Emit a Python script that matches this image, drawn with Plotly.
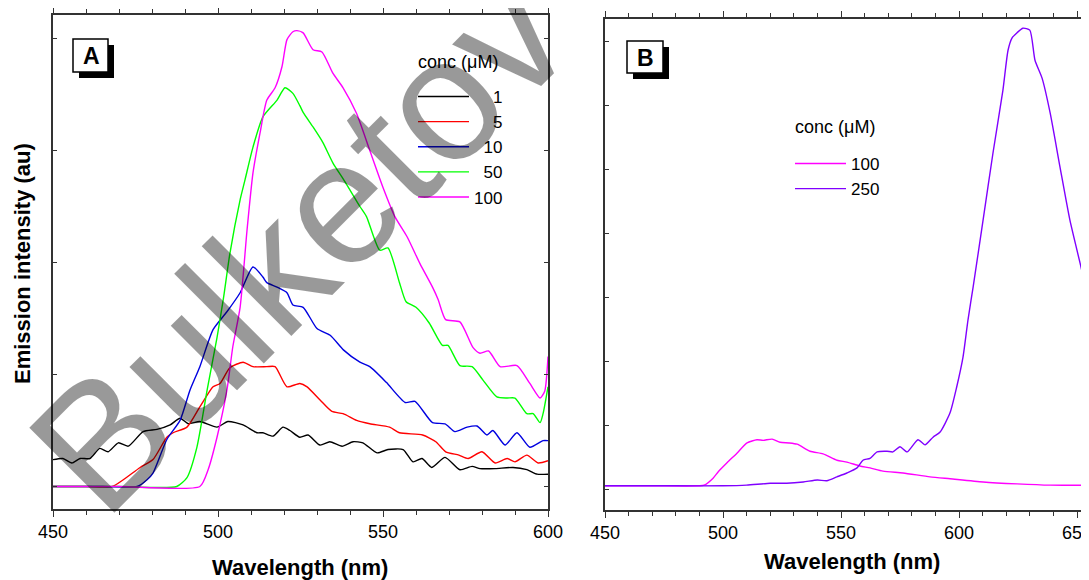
import plotly.graph_objects as go

# ---------------- Panel A data (wavelength nm, emission au) ----------------
wl_a_1 = [450, 453, 455.7, 458.2, 461.2, 464.2, 466.7, 469.8, 472.8, 477.3, 481.5, 485.5, 488.5, 491, 494.5,
          499.7, 503, 507.6, 511.8, 513.6, 516.7, 519.7, 521.8, 524.8, 527.3, 530.9, 533.9, 537.6, 540.9, 543.9,
          548.2, 551.5, 556.1, 559.1, 561.8, 564.8, 568.8, 573.3, 577, 579.4, 584, 589.4, 593.6, 596.7, 600]
int_a_1 = [0.24, 0.25, 0.21, 0.25, 0.25, 0.34, 0.31, 0.39, 0.36, 0.49, 0.51, 0.55, 0.61, 0.56, 0.58,
           0.53, 0.58, 0.55, 0.48, 0.48, 0.45, 0.53, 0.50, 0.44, 0.46, 0.37, 0.40, 0.36, 0.40, 0.39,
           0.30, 0.33, 0.33, 0.22, 0.25, 0.17, 0.26, 0.15, 0.18, 0.16, 0.16, 0.17, 0.15, 0.11, 0.11]

wl_a_5 = [450, 460, 468, 471.3, 476.4, 480.3, 484.5, 486.4, 490.6, 494.5, 498.5, 500.6, 503.6, 507.6, 510.6,
          514.8, 517.3, 520.9, 524.8, 527, 531, 534.5, 537.9, 542, 546, 552, 555, 562, 566, 569, 573, 575.8,
          580, 584, 587.6, 590, 593.6, 597, 600]
int_a_5 = [0, 0, 0, 0.06, 0.17, 0.24, 0.44, 0.48, 0.53, 0.71, 0.89, 0.92, 1.06, 1.11, 1.07,
           1.07, 1.07, 0.89, 0.92, 0.89, 0.77, 0.67, 0.65, 0.59, 0.56, 0.53, 0.48, 0.46, 0.40, 0.31, 0.28, 0.25,
           0.31, 0.21, 0.25, 0.22, 0.28, 0.21, 0.23]

wl_a_10 = [450, 465, 475.5, 478.5, 480.3, 484.5, 488.5, 491.5, 494.5, 498.5, 502.7, 506.7, 510.6, 513.6, 514.8,
           517.9, 520.9, 522.7, 525.8, 530, 534, 538, 543, 546, 551, 556.7, 559.7, 565, 568.8, 571.8, 575.5,
           578.5, 581.5, 583.3, 587, 590.6, 594.5, 598.5, 600]
int_a_10 = [0, 0, 0, 0.06, 0.12, 0.42, 0.59, 0.86, 1.07, 1.40, 1.56, 1.73, 1.96, 1.87, 1.82,
            1.78, 1.73, 1.62, 1.60, 1.41, 1.35, 1.22, 1.11, 1.07, 0.93, 0.75, 0.76, 0.57, 0.56, 0.49, 0.53,
            0.54, 0.46, 0.50, 0.37, 0.48, 0.35, 0.41, 0.41]

wl_a_50 = [450, 470, 487.5, 490.6, 493.6, 496.7, 499.7, 501.7, 503.6, 506.7, 508.2, 510.6, 513.6, 517.9, 520.3,
           522.7, 524.8, 525.8, 528.8, 531.8, 534.8, 538.5, 543, 545, 549, 551.5, 555, 557, 560, 564, 568,
           569.7, 573.3, 577, 580.3, 584.5, 587.6, 590, 593.6, 595.5, 597.6, 598.5, 600]
int_a_50 = [0, 0, 0, 0.08, 0.35, 0.86, 1.33, 1.69, 2.08, 2.56, 2.74, 3.03, 3.30, 3.45, 3.56,
            3.51, 3.40, 3.34, 3.21, 3.07, 2.89, 2.72, 2.50, 2.41, 2.11, 2.13, 1.82, 1.65, 1.60, 1.46, 1.26,
            1.26, 1.08, 1.07, 0.95, 0.80, 0.79, 0.79, 0.65, 0.65, 0.57, 0.65, 0.89]

wl_a_100 = [450, 470, 494.5, 497, 499.7, 502.7, 504.5, 506.7, 508.8, 510.6, 512.7, 514.8, 517.3, 519.4, 520.9,
            522.7, 523.9, 525.8, 528.8, 531.5, 534.8, 537.9, 542, 546, 550, 553.6, 557.3, 561.2, 565, 566.7,
            569, 573.3, 577.3, 579.4, 582, 585.5, 590.6, 594.5, 597.6, 599, 600]
int_a_100 = [0, 0, 0, 0.15, 0.44, 0.86, 1.25, 1.60, 2.29, 2.80, 3.15, 3.45, 3.56, 3.75, 3.99,
             4.06, 4.07, 4.05, 3.90, 3.88, 3.69, 3.56, 3.33, 3.00, 2.67, 2.41, 2.23, 1.99, 1.78, 1.67,
             1.49, 1.47, 1.24, 1.19, 1.21, 1.07, 1.08, 0.92, 0.79, 0.85, 1.16]

names_a = ["1", "5", "10", "50", "100"]
colors_a = ["#000000", "#FF0000", "#0000E0", "#00FF00", "#FF00FF"]

# ---------------- Panel B data ----------------
wl_b_100 = [450, 470, 490, 492, 495.8, 498, 501.7, 505.9, 510.2, 514.4, 517, 520.8, 524.2, 528, 531.4, 536.9,
            542.4, 548.3, 552.5, 558, 562.3, 567.8, 576.3, 587.7, 596.2, 610.2, 624.6, 638.6, 655, 660]
int_b_100 = [0.05, 0.05, 0.05, 0.06, 0.17, 0.27, 0.41, 0.56, 0.72, 0.77, 0.76, 0.78, 0.73, 0.72, 0.70, 0.59,
             0.55, 0.45, 0.42, 0.36, 0.33, 0.28, 0.25, 0.19, 0.16, 0.11, 0.08, 0.06, 0.06, 0.06]

wl_b_250 = [450, 480, 500, 510, 520, 527, 534, 540, 544, 548.3, 552.5, 556.8, 559.3, 562.3, 565.3, 569.5,
            572, 575, 578, 582.6, 585.6, 589, 592, 596.2, 599, 601.7, 603.8, 606, 610.2, 614.4, 618.6, 620.8,
            622.5, 624.6, 627.1, 630, 632.2, 635.2, 638.6, 642.8, 647, 651.3, 655, 660]
int_b_250 = [0.05, 0.05, 0.05, 0.06, 0.09, 0.09, 0.11, 0.14, 0.13, 0.19, 0.25, 0.33, 0.45, 0.48, 0.58, 0.59,
             0.58, 0.66, 0.58, 0.77, 0.69, 0.81, 0.89, 1.19, 1.59, 2.06, 2.64, 3.16, 4.20, 5.25, 6.23, 6.86,
             7.05, 7.13, 7.20, 7.17, 6.70, 6.42, 5.88, 5.03, 4.20, 3.53, 2.95, 2.20]

names_b = ["100", "250"]
colors_b = ["#FF00FF", "#8000FF"]

W, H = 1089, 580
OFF = 8  # page body margin offset of the written HTML
FONT = "Liberation Sans, Arial, sans-serif"
AXC = "#333333"


def px(x):
    return (x - OFF) / W


def py(y):
    return 1 - (y - OFF) / H


fig = go.Figure()

pad = "\u2007"
series_a = [(wl_a_1, int_a_1), (wl_a_5, int_a_5), (wl_a_10, int_a_10), (wl_a_50, int_a_50), (wl_a_100, int_a_100)]
for (xs, ys), nm, c in zip(series_a, names_a, colors_a):
    fig.add_trace(go.Scatter(x=xs, y=ys, mode="lines", name=pad * (3 - len(nm)) + nm,
                             line=dict(color=c, width=1.4, shape="spline", smoothing=0.6),
                             xaxis="x", yaxis="y", legend="legend"))

series_b = [(wl_b_100, int_b_100), (wl_b_250, int_b_250)]
for (xs, ys), nm, c in zip(series_b, names_b, colors_b):
    fig.add_trace(go.Scatter(x=xs, y=ys, mode="lines", name=nm,
                             line=dict(color=c, width=1.4, shape="spline", smoothing=0.6),
                             xaxis="x2", yaxis="y2", legend="legend2"))

xcommon = dict(showgrid=False, zeroline=False, showline=True, linecolor=AXC, linewidth=1.5,
               ticks="outside", ticklen=6, tickwidth=1.3, tickcolor=AXC, dtick=50, tick0=450,
               minor=dict(dtick=10, ticks="outside", ticklen=4, tickwidth=1.2, tickcolor=AXC),
               tickfont=dict(family=FONT, size=18, color="black"), ticklabelstandoff=0,
               automargin=False)
ycommon = dict(showgrid=False, zeroline=False, showline=True, linecolor=AXC, linewidth=1.5,
               ticks="inside", ticklen=4, tickwidth=1.2, tickcolor=AXC, dtick=1, tick0=0,
               showticklabels=False, automargin=False)

# panel B x-range reaches the (cropped) right edge of the figure
b_right_px = W + OFF
b_xmax = 450 + (b_right_px - 605) / 2.36

fig.update_layout(
    width=W, height=H,
    margin=dict(l=0, r=0, t=0, b=0, autoexpand=False),
    paper_bgcolor="white", plot_bgcolor="white",
    font=dict(family=FONT, color="black"),
    xaxis=dict(domain=[px(53), px(548)], range=[450, 600], anchor="y", mirror="ticks", **xcommon),
    yaxis=dict(domain=[py(509), py(15)], range=[-0.2009, 4.2098], anchor="x", mirror="ticks", **ycommon),
    xaxis2=dict(domain=[px(605), 1.0], range=[450, b_xmax], anchor="y2", mirror="ticks", **xcommon),
    yaxis2=dict(domain=[py(510), py(19)], range=[-0.328, 7.344], anchor="x2", mirror=False, **ycommon),
    legend=dict(x=px(413), y=py(79), xanchor="left", yanchor="top", bgcolor="rgba(0,0,0,0)",
                font=dict(family=FONT, size=17, color="black"), tracegroupgap=0, itemwidth=51),
    legend2=dict(x=px(790), y=py(146), xanchor="left", yanchor="top", bgcolor="rgba(0,0,0,0)",
                 font=dict(family=FONT, size=17, color="black"), tracegroupgap=0, itemwidth=51),
    showlegend=True,
)

shapes = []
# panel label boxes with drop shadows
for (x0, y0, x1, y1) in [(73, 39, 108, 72), (627, 41, 663, 73)]:
    shapes.append(dict(type="rect", xref="paper", yref="paper", x0=px(x0 + 6), x1=px(x1 + 6),
                       y0=py(y1 + 6), y1=py(y0 + 6), fillcolor="black", line=dict(width=0)))
    shapes.append(dict(type="rect", xref="paper", yref="paper", x0=px(x0), x1=px(x1),
                       y0=py(y1), y1=py(y0), fillcolor="white", line=dict(color="black", width=1.5)))
fig.update_layout(shapes=shapes)

ann = []
ann.append(dict(text="<b>A</b>", x=px(91), y=py(56), xref="paper", yref="paper", showarrow=False,
                font=dict(family=FONT, size=23, color="black"), xanchor="center", yanchor="middle"))
ann.append(dict(text="<b>B</b>", x=px(645), y=py(58), xref="paper", yref="paper", showarrow=False,
                font=dict(family=FONT, size=23, color="black"), xanchor="center", yanchor="middle"))
ann.append(dict(text="conc (\u03bcM)", x=px(458), y=py(62), xref="paper", yref="paper", showarrow=False,
                font=dict(family=FONT, size=18, color="black"), xanchor="center", yanchor="middle"))
ann.append(dict(text="conc (\u03bcM)", x=px(793), y=py(127), xref="paper", yref="paper", showarrow=False,
                font=dict(family=FONT, size=18, color="black"), xanchor="left", yanchor="middle"))
ann.append(dict(text="<b>Wavelength (nm)</b>", x=px(300), y=py(567), xref="paper", yref="paper",
                showarrow=False, font=dict(family=FONT, size=22, color="black"),
                xanchor="center", yanchor="middle"))
ann.append(dict(text="<b>Wavelength (nm)</b>", x=px(852), y=py(561), xref="paper", yref="paper",
                showarrow=False, font=dict(family=FONT, size=22, color="black"),
                xanchor="center", yanchor="middle"))
ann.append(dict(text="<b>Emission intensity (au)</b>", x=px(22), y=py(264), xref="paper", yref="paper",
                showarrow=False, textangle=-90, font=dict(family=FONT, size=22, color="black"),
                xanchor="center", yanchor="middle"))
# watermark
ann.append(dict(text="Bulketov", x=px(298), y=py(243), xref="paper", yref="paper", showarrow=False,
                textangle=-45, font=dict(family=FONT, size=175, color="rgba(0,0,0,0.4)"),
                xanchor="center", yanchor="middle"))
fig.update_layout(annotations=ann)

fig.write_html("out.html")
